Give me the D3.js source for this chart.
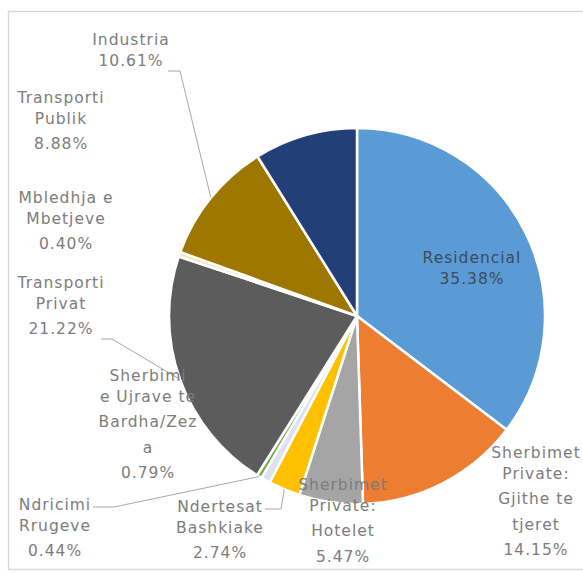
<!DOCTYPE html>
<html>
<head>
<meta charset="utf-8">
<script src="https://cdn.jsdelivr.net/npm/d3@7"></script>
<style>
  html, body { margin: 0; padding: 0; background: #fff; }
  svg { display: block; }
  .lbl { font-family: "DejaVu Sans", Verdana, sans-serif; font-size: 15.5px; letter-spacing: 1px; fill: #7c7c7c; }
</style>
</head>
<body>
<svg id="chart" width="583" height="574"></svg>
<script>
// Energy consumption share by sector (%), clockwise from 12 o'clock
const categories = [
  "Residencial",
  "Sherbimet Private: Gjithe te tjeret",
  "Sherbimet Private: Hotelet",
  "Ndertesat Bashkiake",
  "Sherbimi e Ujrave te Bardha/Zeza",
  "Ndricimi Rrugeve",
  "Transporti Privat",
  "Mbledhja e Mbetjeve",
  "Industria",
  "Transporti Publik"
];
const values = [35.38, 14.15, 5.47, 2.74, 0.79, 0.44, 21.22, 0.40, 10.61, 8.88];
const valueLabels = ["35.38%", "14.15%", "5.47%", "2.74%", "0.79%", "0.44%", "21.22%", "0.40%", "10.61%", "8.88%"];

// Label text lines (name wrapped as in the chart, value on the last line)
const labelLines = [
  ["Residencial"],
  ["Sherbimet", "Private:", "Gjithe te", "tjeret"],
  ["Sherbimet", "Private:", "Hotelet"],
  ["Ndertesat", "Bashkiake"],
  ["Sherbimi", "e Ujrave te", "Bardha/Zez", "a"],
  ["Ndricimi", "Rrugeve"],
  ["Transporti", "Privat"],
  ["Mbledhja e", "Mbetjeve"],
  ["Industria"],
  ["Transporti", "Publik"]
];

const palette = ["#5B9BD5", "#ED7D31", "#A5A5A5", "#FFC000", "#dde2ee", "#70AD47",
                 "#5c5c5c", "#f3e6b0", "#9E7700", "#223f77"];

// Label placement: centre x, first-line y, optional leader start
const labelLayout = [
  { x: 472, y: 258, inside: true },
  { x: 536, y: 453 },
  { x: 343, y: 485 },
  { x: 220, y: 507, leader: [265, 509, 281] },
  { x: 148, y: 376 },
  { x: 55,  y: 505, leader: [93, 507, 114] },
  { x: 61,  y: 283, leader: [101, 339, 112] },
  { x: 66,  y: 198 },
  { x: 131, y: 40,  leader: [168, 71, 180] },
  { x: 61,  y: 98 }
];

const lineH = 25.5;
const cx = 357, cy = 316, radius = 188;

const svg = d3.select("#chart");

// Light chart-area frame
svg.append("rect")
  .attr("x", 8.5).attr("y", 11.5)
  .attr("width", 600).attr("height", 558)
  .attr("fill", "none")
  .attr("stroke", "#d9d9d9")
  .attr("stroke-width", 1.5);

const pie = d3.pie().sort(null).value(d => d);
const arcs = pie(values);
const arc = d3.arc().innerRadius(0).outerRadius(radius);

const g = svg.append("g").attr("transform", `translate(${cx},${cy})`);

g.selectAll("path.slice")
  .data(arcs)
  .join("path")
  .attr("class", "slice")
  .attr("d", arc)
  .attr("fill", (d, i) => palette[i])
  .attr("stroke", "#ffffff")
  .attr("stroke-width", 2.5)
  .attr("stroke-linejoin", "round");

// Leader lines: from label end, short horizontal run, then to the slice's outer arc midpoint
arcs.forEach((a, i) => {
  const L = labelLayout[i];
  if (!L.leader) return;
  const mid = (a.startAngle + a.endAngle) / 2;
  const ex = cx + radius * Math.sin(mid);
  const ey = cy - radius * Math.cos(mid);
  const [x0, y0, x1] = L.leader;
  svg.append("polyline")
    .attr("points", `${x0},${y0} ${x1},${y0} ${ex},${ey}`)
    .attr("fill", "none")
    .attr("stroke", "#a6a6a6")
    .attr("stroke-width", 1);
});

// Data labels
arcs.forEach((a, i) => {
  const L = labelLayout[i];
  const lines = labelLines[i].concat([valueLabels[i]]);
  const t = svg.append("text")
    .attr("class", "lbl")
    .attr("text-anchor", "middle")
    .attr("x", L.x)
    .attr("y", L.y)
    .attr("dy", "0.35em")
    .style("fill", L.inside ? "#3f4a5a" : null);
  lines.forEach((s, k) => {
    t.append("tspan")
      .attr("x", L.x)
      .attr("y", L.y + k * lineH)
      .text(s);
  });
});
</script>
</body>
</html>
